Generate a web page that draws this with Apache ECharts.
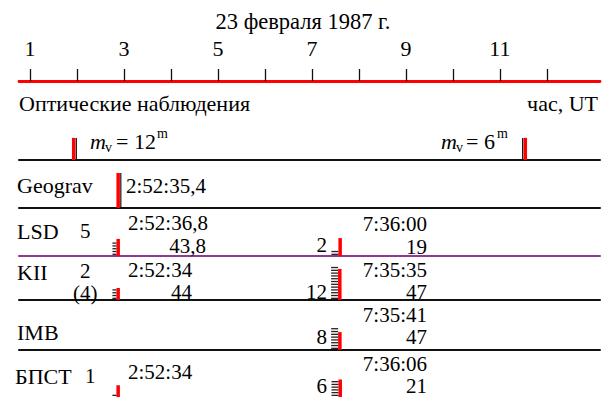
<!DOCTYPE html>
<html>
<head>
<meta charset="utf-8">
<script src="https://cdn.jsdelivr.net/npm/echarts@6/dist/echarts.min.js"></script>
<style>
  html, body { margin: 0; padding: 0; background: #ffffff; }
  #chart { width: 605px; height: 397px; }
</style>
</head>
<body>
<div id="chart"></div>
<script>
// ---- Time axis (hours UT, 23 February 1987) ----
const hourTicks = [1, 2, 3, 4, 5, 6, 7, 8, 9, 10, 11, 12];
const hourLabels = [1, 3, 5, 7, 9, 11];

// ---- Optical observations ----
const opticalHours = [1.93, 11.54];
const opticalSignal = [7.9, 7.9];
const opticalMagnitude = ['12', '6'];

// ---- Geograv ----
const geogravTimes = ['2:52:35,4'];
const geogravSignal = [12.5];

// ---- Neutrino detectors: first-event time, last-event seconds, event counts, pulse height ----
const lsdTimes = ['2:52:36,8', '7:36:00'];
const lsdLast = ['43,8', '19'];
const lsdEvents = [5, 2];
const lsdSignal = [6.1, 6.4];

const kiiTimes = ['2:52:34', '7:35:35'];
const kiiLast = ['44', '47'];
const kiiEvents = [4, 12];
const kiiCountLabels = ['2', '12'];
const kiiSignal = [4.3, 11.1];

const imbTimes = ['7:35:41'];
const imbLast = ['47'];
const imbEvents = [8];
const imbSignal = [6.4];

const bpstTimes = ['2:52:34', '7:36:06'];
const bpstLast = ['', '21'];
const bpstEvents = [1, 6];
const bpstSignal = [4.3, 6.4];

// "h:mm:ss,s" -> decimal hours
function toHours(t) {
  const p = t.replace(',', '.').split(':').map(Number);
  return p[0] + p[1] / 60 + p[2] / 3600;
}

// ---- Layout ----
const FONT = '"Liberation Serif", "Times New Roman", serif';
const FS = 22;        // words
const FN = 21;        // times and counts
const PLOT_LEFT = 19, PLOT_RIGHT = 5;
const X_MIN = 0.766, X_MAX = 13.13;
const UNIT_PX = 2.8;          // pixels per event / signal unit
const RED_W = 3.5;
const DASH_LEN = [4, 7];      // dash length for the first and second burst
const RED = '#ff0000', INK = '#111111', PURPLE = '#8e3a92';

// row baselines (px) and heights
const rows = [
  { key: 'optical', base: 160, h: 40, line: INK },
  { key: 'geograv', base: 208, h: 44, line: INK },
  { key: 'lsd', base: 256, h: 44, line: PURPLE },
  { key: 'kii', base: 300, h: 40, line: INK },
  { key: 'imb', base: 350, h: 44, line: INK },
  { key: 'bpst', base: 398, h: 44, line: null }
];

// data per row: [hour, signal, events, kind(0 = observation, 1 = detector), side/burst]
const rowData = {
  optical: opticalHours.map((h, i) => [h, opticalSignal[i], 0, 0, i === 0 ? 1 : -1]),
  geograv: geogravTimes.map((t, i) => [toHours(t), geogravSignal[i], 0, 0, 1]),
  lsd: lsdTimes.map((t, i) => [toHours(t), lsdSignal[i], lsdEvents[i], 1, i]),
  kii: kiiTimes.map((t, i) => [toHours(t), kiiSignal[i], kiiEvents[i], 1, i]),
  imb: imbTimes.map((t, i) => [toHours(t), imbSignal[i], imbEvents[i], 1, 1]),
  bpst: bpstTimes.map((t, i) => [toHours(t), bpstSignal[i], bpstEvents[i], 1, i])
};

function renderMark(params, api) {
  const h = api.value(0), sig = api.value(1), n = api.value(2);
  const kind = api.value(3), side = api.value(4);
  const base = api.coord([h, 0]);
  const top = api.coord([h, sig]);
  const x = base[0];
  const children = [{
    type: 'rect',
    shape: { x: x - RED_W / 2, y: top[1], width: RED_W, height: base[1] - top[1] },
    style: { fill: RED }
  }];
  if (kind === 0) {
    // thin dark rule beside the observation bar
    const lx = side > 0 ? x + RED_W / 2 + 0.3 : x - RED_W / 2 - 1.5;
    children.push({
      type: 'rect',
      shape: { x: lx, y: top[1], width: 1.2, height: base[1] - top[1] },
      style: { fill: INK }
    });
  } else {
    // one dash per recorded event, stacked from the baseline
    const len = DASH_LEN[side];
    for (let i = 0; i < n; i++) {
      const p = api.coord([h, i + 0.6]);
      children.push({
        type: 'rect',
        shape: { x: x - RED_W / 2 - len, y: p[1] - 0.65, width: len, height: 1.3 },
        style: { fill: '#2b1f1f' }
      });
    }
  }
  return { type: 'group', children };
}

// ---- Grids / axes ----
const grids = [{ left: PLOT_LEFT, right: PLOT_RIGHT, top: 79, height: 2 }];
const xAxes = [
  {
    type: 'value', gridIndex: 0, position: 'top', min: X_MIN, max: X_MAX,
    axisLine: { show: true, lineStyle: { color: INK, width: 1.5 } },
    axisTick: { show: true, customValues: hourTicks, length: 12, lineStyle: { color: INK, width: 1.3 } },
    axisLabel: { show: true, customValues: hourLabels, margin: 20, color: '#000', fontFamily: FONT, fontSize: FS },
    splitLine: { show: false }
  },
  {
    type: 'value', gridIndex: 0, position: 'bottom', min: X_MIN, max: X_MAX,
    axisLine: { show: true, lineStyle: { color: RED, width: 2.8 } },
    axisTick: { show: false }, axisLabel: { show: false }, splitLine: { show: false }
  }
];
const yAxes = [{ type: 'value', gridIndex: 0, show: false, min: 0, max: 1 }];
const series = [];

rows.forEach((r, k) => {
  const gi = k + 1;
  grids.push({ left: PLOT_LEFT, right: PLOT_RIGHT, top: r.base - r.h, height: r.h });
  xAxes.push({
    type: 'value', gridIndex: gi, position: 'bottom', min: X_MIN, max: X_MAX,
    axisLine: { show: !!r.line, lineStyle: { color: r.line || INK, width: 2 } },
    axisTick: { show: false }, axisLabel: { show: false }, splitLine: { show: false }
  });
  yAxes.push({ type: 'value', gridIndex: gi, show: false, min: 0, max: r.h / UNIT_PX });
  series.push({
    type: 'custom', name: r.key, xAxisIndex: gi + 1, yAxisIndex: gi,
    renderItem: renderMark, data: rowData[r.key], clip: false, silent: true
  });
});

// ---- Text ----
function txt(text, x, y, opt) {
  opt = opt || {};
  return {
    type: 'text', x: x, y: y, z: 10, silent: true,
    style: {
      text: text, fill: '#000',
      font: (opt.italic ? 'italic ' : '') + (opt.size || FN) + 'px ' + FONT,
      textAlign: opt.align || 'left', textVerticalAlign: 'middle'
    }
  };
}

const texts = [
  txt('23 февраля 1987 г.', 303, 21, { align: 'center', size: 22.5 }),
  txt('Оптические наблюдения', 19, 103, { size: FS }),
  txt('час, UT', 598, 103, { align: 'right', size: FS }),

  // magnitudes at the optical marks
  txt('m', 90, 141, { italic: true, size: FS }),
  txt('v', 105, 147, { size: 14 }),
  txt('= ' + opticalMagnitude[0], 116, 141, { size: FS }),
  txt('m', 157, 133, { size: 14 }),
  txt('m', 441, 141, { italic: true, size: FS }),
  txt('v', 456, 147, { size: 14 }),
  txt('= ' + opticalMagnitude[1], 466, 141, { size: FS }),
  txt('m', 497, 133, { size: 14 }),

  // Geograv
  txt('Geograv', 17, 185, { size: FS }),
  txt(geogravTimes[0], 126, 186),

  // LSD
  txt('LSD', 17, 231, { size: FS }),
  txt(String(lsdEvents[0]), 80, 231),
  txt(lsdTimes[0], 128, 223),
  txt(lsdLast[0], 206, 246, { align: 'right' }),
  txt(String(lsdEvents[1]), 327, 245, { align: 'right' }),
  txt(lsdTimes[1], 427, 224, { align: 'right' }),
  txt(lsdLast[1], 427, 247, { align: 'right' }),

  // KII
  txt('KII', 17, 272, { size: FS }),
  txt(kiiCountLabels[0], 80, 271),
  txt('(' + kiiEvents[0] + ')', 73, 293),
  txt(kiiTimes[0], 128, 270),
  txt(kiiLast[0], 192, 292, { align: 'right' }),
  txt(kiiCountLabels[1], 327, 292, { align: 'right' }),
  txt(kiiTimes[1], 427, 270, { align: 'right' }),
  txt(kiiLast[1], 427, 292, { align: 'right' }),

  // IMB
  txt('IMB', 17, 332, { size: FS }),
  txt(String(imbEvents[0]), 327, 337, { align: 'right' }),
  txt(imbTimes[0], 427, 315, { align: 'right' }),
  txt(imbLast[0], 427, 337, { align: 'right' }),

  // БПСТ
  txt('БПСТ', 15, 376, { size: FS }),
  txt(String(bpstEvents[0]), 85, 376),
  txt(bpstTimes[0], 128, 372),
  txt(String(bpstEvents[1]), 327, 385.5, { align: 'right' }),
  txt(bpstTimes[1], 427, 363.5, { align: 'right' }),
  txt(bpstLast[1], 427, 385.5, { align: 'right' })
];

const chart = echarts.init(document.getElementById('chart'), null, { renderer: 'svg' });
chart.setOption({
  animation: false,
  backgroundColor: '#ffffff',
  grid: grids,
  xAxis: xAxes,
  yAxis: yAxes,
  series: series,
  graphic: { elements: texts }
});
</script>
</body>
</html>
